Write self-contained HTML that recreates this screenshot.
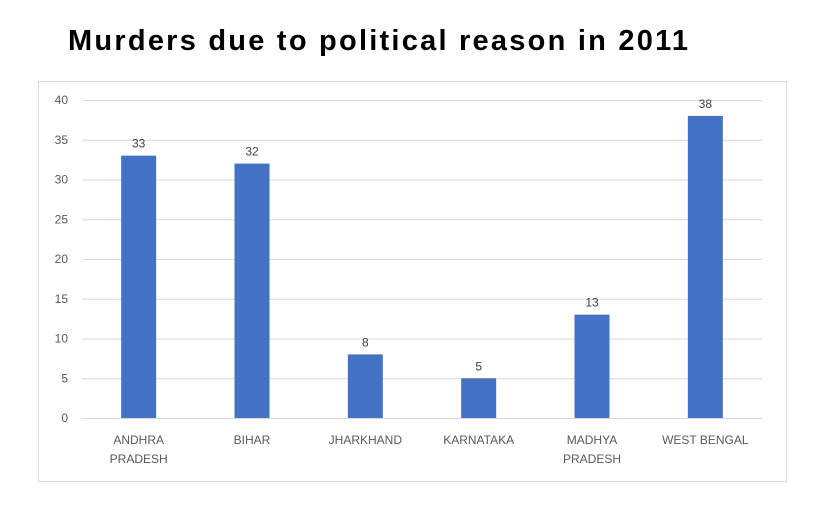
<!DOCTYPE html>
<html><head><meta charset="utf-8"><style>
body{margin:0;width:825px;height:500px;background:#fff;overflow:hidden;font-family:"Liberation Sans",sans-serif}
</style></head><body>
<svg width="825" height="500">
<text x="68" y="50" font-size="29" font-weight="bold" fill="#000" textLength="620">Murders due to political reason in 2011</text>
<rect x="38.5" y="81.5" width="748" height="400" fill="none" stroke="#d9d9d9"/>
<g id="grid"></g><g id="bars"></g><g id="labels"></g>
</svg>
<script>
const categories=[["ANDHRA","PRADESH"],["BIHAR"],["JHARKHAND"],["KARNATAKA"],["MADHYA","PRADESH"],["WEST BENGAL"]];
const values=[33,32,8,5,13,38];
const yTicks=[0,5,10,15,20,25,30,35,40];
const NS="http://www.w3.org/2000/svg";
const x0=82,x1=762,yZero=418,yTop=100,yMax=40;
const y=v=>yZero-(yZero-yTop)*v/yMax;
const step=(x1-x0)/categories.length;
const xc=i=>x0+step*(i+0.5);
function mk(tag,attrs,parent,text){const e=document.createElementNS(NS,tag);for(const k in attrs)e.setAttribute(k,attrs[k]);if(text!=null)e.textContent=text;parent.appendChild(e);return e;}
const grid=document.getElementById('grid'),bars=document.getElementById('bars'),labels=document.getElementById('labels');
yTicks.forEach(t=>{
 const l=mk('line',{x1:x0,x2:x1,y1:y(t)+0.5,y2:y(t)+0.5,stroke:'#d9d9d9'},grid);
 
 
 const tx=mk('text',{x:68,y:y(t)+4,'text-anchor':'end','font-size':12,fill:'#595959'},grid,t);
 
 
});
const bw=35;
values.forEach((v,i)=>{
 const r=mk('rect',{x:xc(i)-bw/2,y:y(v),width:bw,height:yZero-y(v),fill:'#4472c4'},bars);
 
 
 const t=mk('text',{x:xc(i),y:y(v)-8,'text-anchor':'middle','font-size':12,fill:'#404040'},labels,v);
 
 
 categories[i].forEach((line,j)=>{
  const c=mk('text',{x:xc(i),y:444+j*19,'text-anchor':'middle','font-size':12,fill:'#595959'},labels,line);
  
  
 });
});
</script>
</body></html>
